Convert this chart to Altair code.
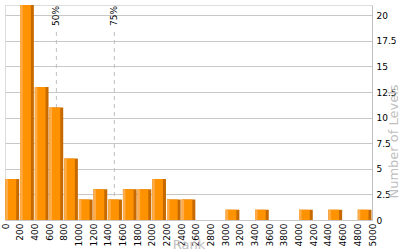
import altair as alt
import pandas as pd

bin_start = [0, 200, 400, 600, 800, 1000, 1200, 1400, 1600, 1800, 2000, 2200, 2400,
             3000, 3400, 4000, 4400, 4800]
counts = [4, 21, 13, 11, 6, 2, 3, 2, 3, 3, 4, 2, 2, 1, 1, 1, 1, 1]
bin_width = 200

pct_labels = ["50%", "75%"]
pct_rank = [700, 1490]

x_ticks = list(range(0, 5001, 200))
y_ticks = [0, 2.5, 5, 7.5, 10, 12.5, 15, 17.5, 20]

df = pd.DataFrame({"start": bin_start, "count": counts})
df["end"] = df["start"] + bin_width
pdf = pd.DataFrame({"label": pct_labels, "rank": pct_rank})

FONT = "DejaVu Sans"
xscale = alt.Scale(domain=[0, 5000], nice=False, zero=False)
yscale = alt.Scale(domain=[0, 21], nice=False)

xaxis = alt.Axis(values=x_ticks, labelExpr="datum.value + ''", labelAngle=270,
                 labelAlign="right", labelBaseline="middle", labelFontSize=9, labelFont=FONT,
                 labelColor="#000000", ticks=False, labelPadding=3, domain=False,
                 grid=False, labelOverlap=False, labelFlush=False,
                 title="Rank", titleColor="#c0c0c0", titleFontSize=13, titleFont=FONT,
                 titleFontWeight="normal", titleY=28, titleBaseline="alphabetic")
yaxis = alt.Axis(orient="right", values=y_ticks, labelExpr="datum.value + ''",
                 labelFontSize=9, labelFont=FONT,
                 labelColor="#000000", ticks=False, labelPadding=4, domain=True,
                 domainColor="#c0c0c0", grid=True, gridColor="#c8c8c8", labelOverlap=False,
                 title="Number of Levels", titleColor="#c0c0c0", titleFontSize=13,
                 titleFont=FONT, titleFontWeight="normal", titleAngle=270,
                 titleX=21, titleY=136, titleBaseline="middle", titleAlign="center")

X = alt.X("start:Q", scale=xscale, axis=xaxis)
Y = alt.Y("count:Q", scale=yscale, axis=yaxis)

rules = alt.Chart(pdf).mark_rule(color="#c0c0c0", strokeDash=[4, 4], strokeWidth=1).encode(
    x=alt.X("rank:Q", scale=xscale, axis=xaxis), y=alt.Y(datum=0, scale=yscale, axis=yaxis),
    y2=alt.datum(18.6)
)
texts = alt.Chart(pdf).mark_text(angle=270, align="right", baseline="middle", fontSize=9,
                                 font=FONT, color="#000000").encode(
    x=alt.X("rank:Q", scale=xscale, axis=xaxis), y=alt.value(1), text="label:N"
)

base = alt.Chart(df)
dark = base.mark_bar(color="#C66A00", xOffset=0.5, x2Offset=-0.5, clip=True).encode(
    x=X, x2="end:Q", y=Y, y2=alt.datum(0)
)
main = base.mark_bar(color="#FF9200", xOffset=0.5, x2Offset=-3.5, clip=True).encode(
    x=X, x2="end:Q", y=Y, y2=alt.datum(0)
)
light = base.mark_bar(color="#FFAD4A", xOffset=0.5, x2Offset=3, clip=True).encode(
    x=X, x2="start:Q", y=Y, y2=alt.datum(0)
)

chart = alt.layer(rules, dark, main, light, texts).properties(
    width=367, height=215,
    autosize=alt.AutoSizeParams(type="none"),
    padding={"left": 5, "top": 5, "right": 28, "bottom": 30},
).configure_view(stroke="#c0c0c0", strokeWidth=1).configure(background="#ffffff")

chart.save("out.html", embed_options={"renderer": "svg", "actions": False})
